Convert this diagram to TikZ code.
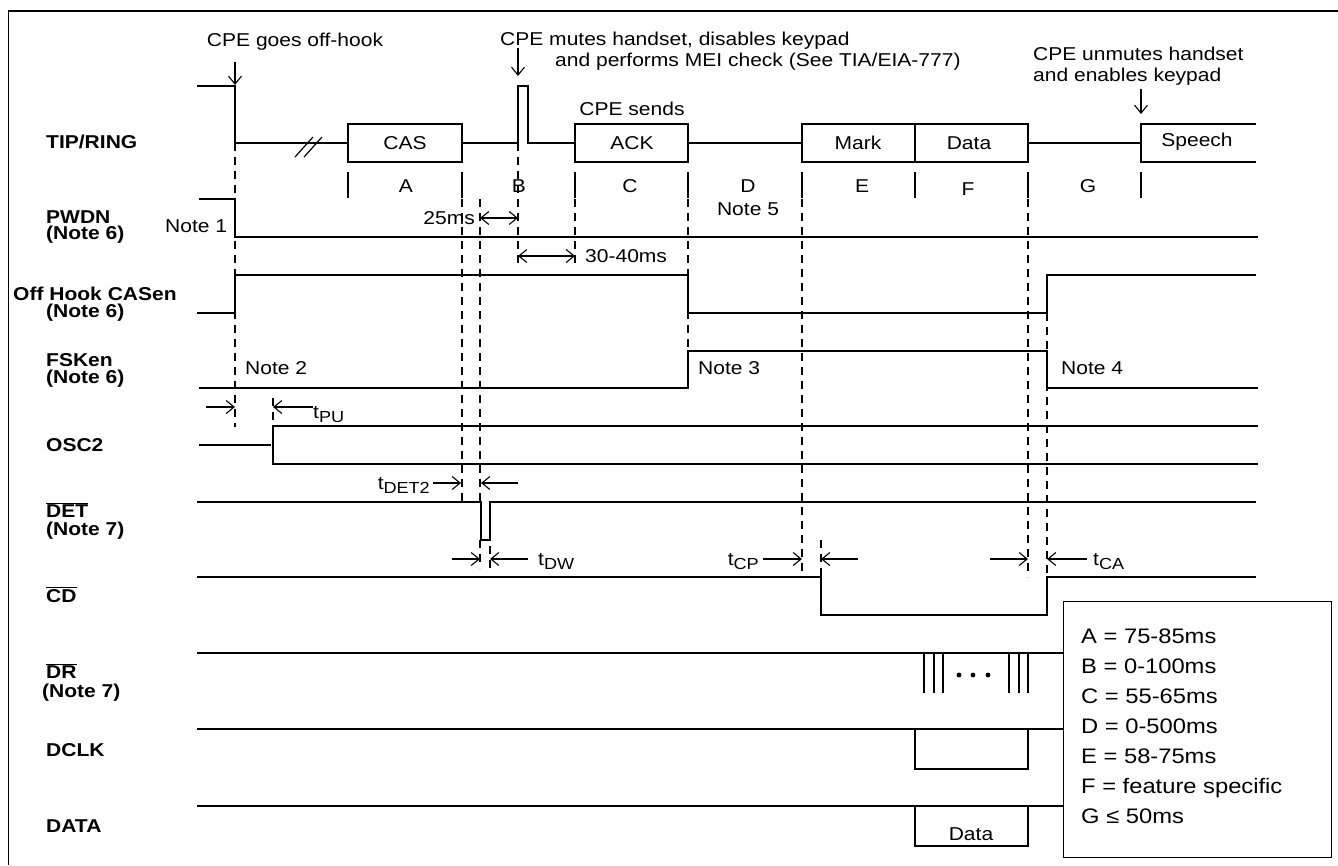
\documentclass[tikz,border=0pt]{standalone}
\usepackage{fontspec}
\setmainfont{Liberation Sans}[FakeStretch=1.13]
\newfontfamily\lblfont{Liberation Sans Bold}
\usetikzlibrary{arrows.meta}
\newcommand\tsub[1]{\raisebox{-4pt}{\fontsize{16}{16}\selectfont #1}}
\newcommand\ovl[1]{$\overline{\mbox{#1}}$}
\newcommand\bl[1]{\scalebox{1.13}[1]{\lblfont #1}}
\tikzset{
  sig/.style={line width=1.2pt},
  dsh/.style={line width=1.1pt, dash pattern=on 8pt off 6pt},
  tick/.style={line width=1.2pt},
  lbl/.style={font=\fontsize{18.6}{20}\selectfont, anchor=base west, inner sep=0pt},
  txt/.style={font=\fontsize{18.6}{20}\selectfont, inner sep=0pt},
  leg/.style={font=\fontsize{21}{22}\selectfont, inner sep=0pt, anchor=base west},
  arr/.style={line width=1.1pt, -{Straight Barb[length=8pt,width=13pt]}},
  darr/.style={line width=1.1pt, {Straight Barb[length=8pt,width=13pt]}-{Straight Barb[length=8pt,width=13pt]}}
}
\begin{document}
\begin{tikzpicture}[x=1pt,y=-1pt]
\useasboundingbox (0,0) rectangle (1338,865);
\draw[line width=1.2pt] (8.5,865) -- (8.5,11) -- (1338,11);

% ---------- signal labels ----------
\node[lbl] (lTR) at (46,148) {\bl{TIP/RING}};
\node[lbl] (lPW) at (46,223) {\bl{PWDN}};
\node[lbl] (lPW6) at (46,239) {\bl{(Note 6)}};
\node[lbl] (lOH) at (13,300) {\bl{Off Hook CASen}};
\node[lbl] (lOH6) at (46,317) {\bl{(Note 6)}};
\node[lbl] (lFS) at (46,366) {\bl{FSKen}};
\node[lbl] (lFS6) at (46,383) {\bl{(Note 6)}};
\node[lbl] (lOS) at (46,451) {\bl{OSC2}};
\node[lbl] (lDET) at (46,517) {\bl{\ovl{DET}}};
\node[lbl] (lDET7) at (46,535) {\bl{(Note 7)}};
\node[lbl] (lCD) at (46,602) {\bl{\ovl{CD}}};
\node[lbl] (lDR) at (46,678) {\bl{\ovl{DR}}};
\node[lbl] (lDR7) at (42,697) {\bl{(Note 7)}};
\node[lbl] (lDC) at (46,756) {\bl{DCLK}};
\node[lbl] (lDA) at (46,832) {\bl{DATA}};

% ---------- dashed reference lines ----------
\draw[dsh] (235,143) -- (235,427);
\draw[dsh] (462,199) -- (462,502);
\draw[dsh] (480,199) -- (480,502);
\draw[dsh] (480,540) -- (480,568);
\draw[dsh] (490,546) -- (490,568);
\draw[dsh] (518,143) -- (518,265);
\draw[dsh] (575,199) -- (575,265);
\draw[dsh] (688,199) -- (688,388);
\draw[dsh] (802,199) -- (802,577);
\draw[dsh] (821,540) -- (821,577);
\draw[dsh] (1028,199) -- (1028,577);
\draw[dsh] (1047,313) -- (1047,577);
\draw[dsh] (273,398) -- (273,426);

% ---------- segment ticks ----------
\foreach \x in {348,462,575,688,802,915,1028,1141}
  \draw[tick] (\x,172) -- (\x,198);

% ---------- TIP/RING ----------
\draw[sig] (197,86) -- (235,86) -- (235,143) -- (348,143);
\draw[sig] (295,157) -- (313,137);
\draw[sig] (304,157) -- (322,137);
\draw[sig] (348,124) rectangle (462,162);
\draw[sig] (462,143) -- (518,143) -- (518,86) -- (528,86) -- (528,143) -- (575,143);
\draw[sig] (575,124) rectangle (688,162);
\draw[sig] (688,143) -- (802,143);
\draw[sig] (802,124) rectangle (1028,162);
\draw[sig] (915,124) -- (915,162);
\draw[sig] (1028,143) -- (1141,143);
\draw[sig] (1256,124) -- (1141,124) -- (1141,162) -- (1256,162);

\node[txt] (tCAS) at (405,143) {CAS};
\node[txt] (tACK) at (632,143) {ACK};
\node[txt] (tMark) at (858,143) {Mark};
\node[txt] (tData) at (969,143) {Data};
\node[txt] (tSp) at (1197,142) {Speech};

\node[txt,anchor=base] (sA) at (406,192) {A};
\node[txt,anchor=base] (sB) at (519,192) {B};
\node[txt,anchor=base] (sC) at (630,192) {C};
\node[txt,anchor=base] (sD) at (748,192) {D};
\node[txt,anchor=base] (n5) at (748,215) {Note 5};
\node[txt,anchor=base] (sE) at (862,192) {E};
\node[txt,anchor=base] (sF) at (968,195) {F};
\node[txt,anchor=base] (sG) at (1088,192) {G};

% ---------- annotations top ----------
\node[txt,anchor=base] (offhook) at (295,46) {CPE goes off-hook};
\coordinate (oh1) at (235,62); \coordinate (oh2) at (235,85);
\draw[arr] (oh1) -- (oh2);
\node[txt,anchor=base west] (mute1) at (500,45) {CPE mutes handset, disables keypad};
\node[txt,anchor=base west] (mute2) at (555,66) {and performs MEI check (See TIA/EIA-777)};
\coordinate (mu1) at (518,48); \coordinate (mu2) at (518,76);
\draw[arr] (mu1) -- (mu2);
\node[txt,anchor=base] (sends) at (632,115) {CPE sends};
\node[txt,anchor=base west] (unm1) at (1033,60) {CPE unmutes handset};
\node[txt,anchor=base west] (unm2) at (1033,81) {and enables keypad};
\coordinate (un1) at (1141,89); \coordinate (un2) at (1141,114);
\draw[arr] (un1) -- (un2);

% ---------- PWDN ----------
\draw[sig] (199,199) -- (235,199) -- (235,237) -- (1258,237);
\node[txt,anchor=base west] (n1) at (165,232) {Note 1};
\node[txt,anchor=base east] (t25) at (475,224) {25ms};
\coordinate (a25l) at (480,218); \coordinate (a25r) at (518,218);
\draw[darr] (a25l) -- (a25r);
\coordinate (a30l) at (518,256); \coordinate (a30r) at (575,256);
\draw[darr] (a30l) -- (a30r);
\node[txt,anchor=base west] (t30) at (585,262) {30-40ms};

% ---------- Off Hook CASen ----------
\draw[sig] (197,313) -- (235,313) -- (235,275) -- (688,275) -- (688,313) -- (1047,313) -- (1047,275) -- (1256,275);

% ---------- FSKen ----------
\draw[sig] (199,388) -- (688,388) -- (688,351) -- (1047,351) -- (1047,388) -- (1258,388);
\node[txt,anchor=base west] (n2) at (245,374) {Note 2};
\node[txt,anchor=base west] (n3) at (698,374) {Note 3};
\node[txt,anchor=base west] (n4) at (1061,374) {Note 4};

% ---------- tPU ----------
\coordinate (pu1) at (206,407); \coordinate (pu2) at (235,407);
\draw[arr] (pu1) -- (pu2);
\node[txt,anchor=base west] (tPU) at (313,418) {t\tsub{PU}};
\coordinate (pu3) at (273,407);
\draw[arr] (tPU.west |- pu3) -- (pu3);

% ---------- OSC2 ----------
\draw[sig] (199,445) -- (271,445);
\draw[sig] (1258,426) -- (273,426) -- (273,464) -- (1258,464);

% ---------- DET ----------
\draw[sig] (197,502) -- (481,502) -- (481,540) -- (490,540) -- (490,502) -- (1256,502);
\node[txt,anchor=base east] (tDET) at (430,489) {t\tsub{DET2}};
\coordinate (de1) at (433,483); \coordinate (de2) at (461,483);
\coordinate (de3) at (518,483); \coordinate (de4) at (481,483);
\draw[arr] (de1) -- (de2);
\draw[arr] (de3) -- (de4);

% ---------- timing arrows on CD ----------
\coordinate (dw1) at (452,559); \coordinate (dw2) at (480,559);
\coordinate (dw3) at (528,559); \coordinate (dw4) at (490,559);
\draw[arr] (dw1) -- (dw2);
\draw[arr] (dw3) -- (dw4);
\node[txt,anchor=base west] (tDW) at (538,565) {t\tsub{DW}};
\node[txt,anchor=base east] (tCP) at (759,565) {t\tsub{CP}};
\coordinate (cp1) at (763,559); \coordinate (cp2) at (802,559);
\coordinate (cp3) at (858,559); \coordinate (cp4) at (821,559);
\draw[arr] (cp1) -- (cp2);
\draw[arr] (cp3) -- (cp4);
\coordinate (ca1) at (990,559); \coordinate (ca2) at (1028,559);
\coordinate (ca3) at (1087,559); \coordinate (ca4) at (1047,559);
\draw[arr] (ca1) -- (ca2);
\draw[arr] (ca3) -- (ca4);
\node[txt,anchor=base west] (tCA) at (1093,565) {t\tsub{CA}};

% ---------- CD ----------
\draw[sig] (197,577) -- (821,577) -- (821,615) -- (1047,615) -- (1047,577) -- (1256,577);

% ---------- legend box ----------
\node[draw, line width=1.2pt, minimum width=268pt, minimum height=256pt, anchor=north west, inner sep=0pt] (legend) at (1063,601) {};

% ---------- DR ----------
\draw[sig] (197,653) -- (legend.west |- 0,653);
\foreach \x in {924,934,943,1009,1019,1028}
  \draw[sig] (\x,653) -- (\x,693);
\foreach \x in {959,973,988}
  \fill (\x,675) circle (2.4pt);

% ---------- DCLK ----------
\draw[sig] (197,729) -- (legend.west |- 0,729);
\draw[sig] (915,729) -- (915,769) -- (1028,769) -- (1028,729);

% ---------- DATA ----------
\draw[sig] (197,806) -- (legend.west |- 0,806);
\draw[sig] (915,806) -- (915,846) -- (1028,846) -- (1028,806);
\node[txt,anchor=base] (tDbox) at (971,840) {Data};

% ---------- legend text ----------
\node[leg] (gA) at (1081,643) {A = 75-85ms};
\node[leg] (gB) at (1081,673) {B = 0-100ms};
\node[leg] (gC) at (1081,703) {C = 55-65ms};
\node[leg] (gD) at (1081,733) {D = 0-500ms};
\node[leg] (gE) at (1081,763) {E = 58-75ms};
\node[leg] (gF) at (1081,793) {F = feature specific};
\node[leg] (gG) at (1081,823) {G ≤ 50ms};
\end{tikzpicture}
\end{document}
